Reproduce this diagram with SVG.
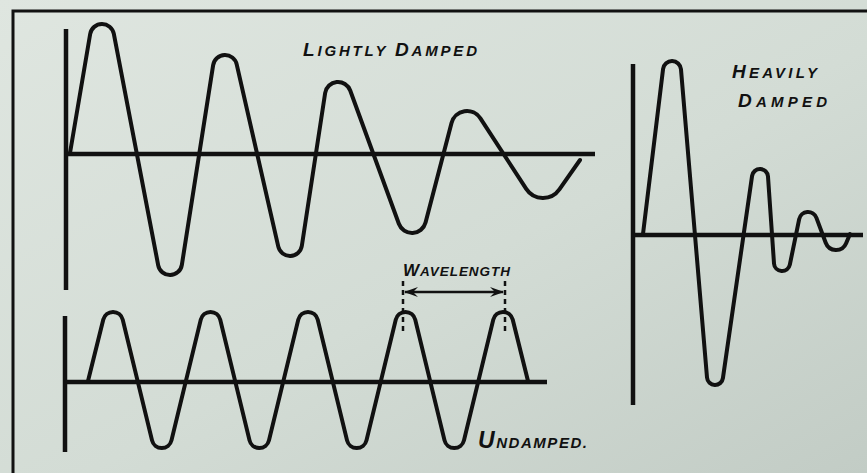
<svg xmlns="http://www.w3.org/2000/svg" width="867" height="473" viewBox="0 0 867 473">
  <defs>
    <linearGradient id="bg" x1="0" y1="0" x2="1" y2="1">
      <stop offset="0" stop-color="#dfe6e0"/>
      <stop offset="0.55" stop-color="#d3dcd5"/>
      <stop offset="1" stop-color="#c2ccc5"/>
    </linearGradient>
    <marker id="barb" viewBox="0 0 14 10" refX="13" refY="5" markerWidth="14" markerHeight="10" markerUnits="userSpaceOnUse" orient="auto-start-reverse">
      <path d="M0,0 L14,5 L0,10 L5,5 z" fill="#111"/>
    </marker>
    <style>
      .frame { stroke: #111; stroke-width: 3; fill: none; }
      .axis { stroke: #111; stroke-width: 4.5; fill: none; stroke-linecap: butt; }
      .wave { stroke: #111; stroke-width: 4; fill: none; stroke-linejoin: round; stroke-linecap: round; }
      .lbl { font-family: "Liberation Sans", Arial, sans-serif; font-style: italic; font-weight: bold; fill: #111; }
      .big { font-size: 19px; }
      .sm { font-size: 15px; }
      .tick { stroke: #111; stroke-width: 2.5; stroke-dasharray: 5 4; fill: none; }
      .dim { stroke: #111; stroke-width: 2.5; fill: none; }
    </style>
  </defs>

  <rect x="0" y="0" width="867" height="473" fill="url(#bg)"/>

  <g id="frame">
    <path class="frame" d="M13,473 L13,11 L867,11"/>
  </g>

  <g id="lightly-damped">
    <path class="axis" d="M66,29 L66,290 M64,154 L595,154"/>
    <path class="wave" d="M70,153 L90.17,34.0 A12,12 0 0 1 113.79,33.74 L158.21,265.26 A12,12 0 0 0 181.86,264.86 L213.14,65.14 A12,12 0 0 1 236.70,64.33 L278.30,246.67 A12,12 0 0 0 301.86,245.81 L325.15,93.04 A13,13 0 0 1 350.21,90.54 L398.85,223.80 A14,14 0 0 0 425.55,222.53 L451.52,122.96 A16,16 0 0 1 480.42,118.29 L526.22,188.89 A20,20 0 0 0 559.39,189.47 L580,160"/>
    <text class="lbl" x="303" y="56" textLength="174" lengthAdjust="spacing"><tspan class="big">L</tspan><tspan class="sm">IGHTLY </tspan><tspan class="big">D</tspan><tspan class="sm">AMPED</tspan></text>
  </g>

  <g id="heavily-damped">
    <path class="axis" d="M633,64 L633,405 M631,235 L863,235"/>
    <path class="wave" d="M643,234 L663.07,68.91 A9,9 0 0 1 680.97,69.24 L707.03,377.67 A8,8 0 0 0 722.92,378.14 L752.08,175.86 A8,8 0 0 1 767.98,176.45 L774.02,263.55 A8,8 0 0 0 789.84,264.61 L799.18,219.19 A9,9 0 0 1 816.44,217.87 L825.69,242.82 A11,11 0 0 0 846.15,243.23 L850,234"/>
    <text class="lbl" x="732" y="78" textLength="85" lengthAdjust="spacing"><tspan class="big">H</tspan><tspan class="sm">EAVILY</tspan></text>
    <text class="lbl" x="738" y="107" textLength="89" lengthAdjust="spacing"><tspan class="big">D</tspan><tspan class="sm">AMPED</tspan></text>
  </g>

  <g id="undamped">
    <path class="axis" d="M65,316 L65,452 M63,382 L547,382"/>
    <path class="wave" d="M88,381 L103.30,319.58 A10,10 0 0 1 122.72,319.64 L152.03,440.36 A10,10 0 0 0 171.47,440.36 L200.78,319.64 A10,10 0 0 1 220.22,319.64 L249.53,440.36 A10,10 0 0 0 268.97,440.36 L298.28,319.64 A10,10 0 0 1 317.72,319.64 L347.03,440.36 A10,10 0 0 0 366.47,440.36 L395.78,319.64 A10,10 0 0 1 415.22,319.64 L444.53,440.36 A10,10 0 0 0 463.97,440.36 L493.28,319.64 A10,10 0 0 1 512.70,319.58 L528,381"/>
    <text class="lbl" x="478" y="448" textLength="109" lengthAdjust="spacing"><tspan font-size="23px">U</tspan><tspan font-size="15px">NDAMPED.</tspan></text>
  </g>

  <g id="wavelength">
    <text class="lbl" x="403" y="276" textLength="107" lengthAdjust="spacing"><tspan font-size="17px">W</tspan><tspan font-size="13.5px">AVELENGTH</tspan></text>
  </g>

  <g id="connectors">
    <path class="tick" d="M403,281 L403,331"/>
    <path class="tick" d="M505,281 L505,331"/>
    <path class="dim" d="M405,292 L503,292" marker-start="url(#barb)" marker-end="url(#barb)"/>
  </g>
</svg>
